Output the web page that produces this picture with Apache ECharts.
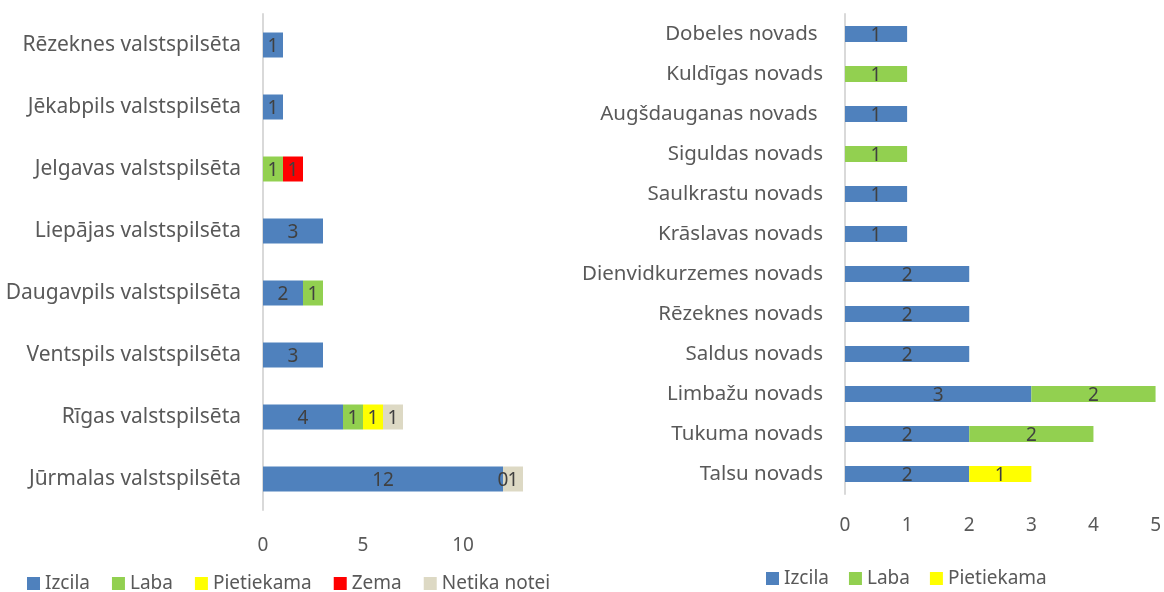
<!DOCTYPE html>
<html>
<head>
<meta charset="utf-8">
<script src="https://cdn.jsdelivr.net/npm/echarts@6/dist/echarts.min.js"></script>
<style>
  html, body { margin: 0; padding: 0; background: #fff; }
  #leftWrap { position: absolute; left: 0; top: 0; width: 551px; height: 592px; overflow: hidden; }
  #left { width: 600px; height: 592px; }
  #right { position: absolute; left: 551px; top: 0; width: 613px; height: 592px; }
</style>
</head>
<body>
<div id="leftWrap"><div id="left"></div></div>
<div id="right"></div>
<script>
// kreisais grafiks (valstspilsētas), no apakšas uz augšu
var leftCities = ['Jūrmalas valstspilsēta', 'Rīgas valstspilsēta', 'Ventspils valstspilsēta',
    'Daugavpils valstspilsēta', 'Liepājas valstspilsēta', 'Jelgavas valstspilsēta',
    'Jēkabpils valstspilsēta', 'Rēzeknes valstspilsēta'];
var leftIzcila     = [12, 4, 3, 2, 3, null, 1, 1];
var leftLaba       = [null, 1, null, 1, null, 1, null, null];
var leftPietiekama = [null, 1, null, null, null, null, null, null];
var leftZema       = [0, null, null, null, null, 1, null, null];
var leftNetika     = [1, 1, null, null, null, null, null, null];

// labais grafiks (novadi), no apakšas uz augšu
var rightNovadi = ['Talsu novads', 'Tukuma novads', 'Limbažu novads', 'Saldus novads',
    'Rēzeknes novads', 'Dienvidkurzemes novads', 'Krāslavas novads', 'Saulkrastu novads',
    'Siguldas novads', 'Augšdauganas novads ', 'Kuldīgas novads', 'Dobeles novads '];
var rightIzcila     = [2, 2, 3, 2, 2, 2, 1, 1, null, 1, null, 1];
var rightLaba       = [null, 2, 2, null, null, null, null, null, 1, null, 1, null];
var rightPietiekama = [1, null, null, null, null, null, null, null, null, null, null, null];

var leftTicks = [0, 5, 10, 15];
var rightTicks = [0, 1, 2, 3, 4, 5];

var FONT = 'Noto Sans';
var colors = {
    'Izcila': '#4f81bd',
    'Laba': '#92d050',
    'Pietiekama': '#ffff00',
    'Zema': '#ff0000',
    'Netika noteikts': '#ddd9c4'
};

function mkSeries(name, data, barWidth) {
    return {
        name: name,
        type: 'bar',
        stack: 'kopa',
        barWidth: barWidth,
        data: data,
        itemStyle: { color: colors[name] },
        label: {
            show: true,
            position: 'inside',
            color: '#404040',
            fontFamily: FONT,
            fontSize: 19,
            offset: [0, 2]
        },
        animation: false
    };
}

function baseOpt(cats, ticks, legendNames) {
    return {
        animation: false,
        textStyle: { fontFamily: FONT },
        legend: {
            data: legendNames,
            bottom: 0,
            icon: 'rect',
            itemWidth: 13,
            itemHeight: 13,
            itemGap: 20,
            textStyle: { color: '#595959', fontSize: 19, fontFamily: FONT }
        },
        xAxis: {
            type: 'value',
            min: ticks[0],
            max: ticks[ticks.length - 1],
            interval: ticks[1] - ticks[0],
            splitLine: { show: false },
            axisLine: { show: false },
            axisTick: { show: false },
            axisLabel: { color: '#595959', fontSize: 19, fontFamily: FONT, margin: 22 }
        },
        yAxis: {
            type: 'category',
            data: cats,
            axisLine: { show: true, lineStyle: { color: '#d9d9d9', width: 2 } },
            axisTick: { show: false },
            axisLabel: { color: '#595959', fontSize: 20, fontFamily: FONT, margin: 22 }
        }
    };
}

var leftChart = echarts.init(document.getElementById('left'));
var lo = baseOpt(leftCities, leftTicks, ['Izcila', 'Laba', 'Pietiekama', 'Zema', 'Netika noteikts']);
lo.grid = { left: 263, right: 37, top: 14, bottom: 82 };
lo.legend.left = 22;
lo.legend.bottom = -6;
lo.legend.itemGap = 22;
lo.yAxis.axisLabel.fontSize = 21;
lo.xAxis.axisLabel.margin = 26;
lo.xAxis.axisLabel.formatter = function (v) { return v === 15 ? '' : v; };
lo.series = [
    mkSeries('Izcila', leftIzcila, 25),
    mkSeries('Laba', leftLaba, 25),
    mkSeries('Pietiekama', leftPietiekama, 25),
    mkSeries('Zema', leftZema, 25),
    mkSeries('Netika noteikts', leftNetika, 25)
];
leftChart.setOption(lo);

var rightChart = echarts.init(document.getElementById('right'));
var ro = baseOpt(rightNovadi, rightTicks, ['Izcila', 'Laba', 'Pietiekama']);
ro.grid = { left: 294, right: 8, top: 14, bottom: 98 };
ro.legend.left = 210;
ro.legend.bottom = -1;
ro.yAxis.axisLabel.fontSize = 20.5;
ro.series = [
    mkSeries('Izcila', rightIzcila, 16),
    mkSeries('Laba', rightLaba, 16),
    mkSeries('Pietiekama', rightPietiekama, 16)
];
rightChart.setOption(ro);
</script>
</body>
</html>
